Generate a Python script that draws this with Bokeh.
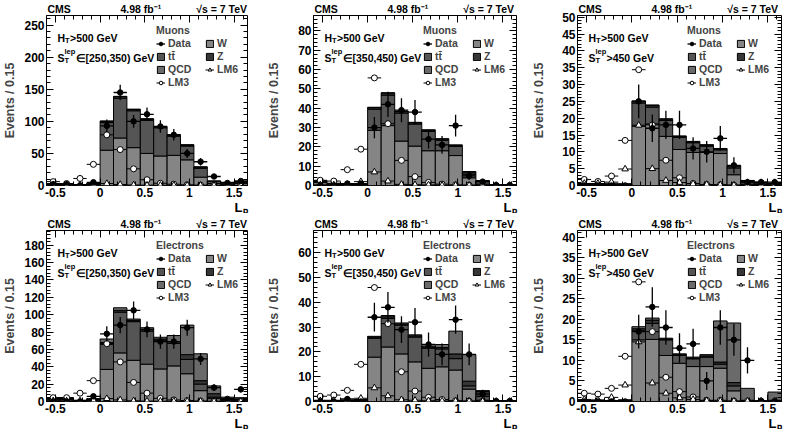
import numpy as np
from bokeh.plotting import figure
from bokeh.layouts import row, column
from bokeh.models import (ColumnDataSource, Label, Legend, LegendItem, LinearAxis, Range1d,
                          SingleIntervalTicker, CustomJSTickFormatter, Title)
from bokeh.embed import file_html
from bokeh.resources import INLINE

# ---------------- data ----------------
edges = [-0.6, -0.45, -0.3, -0.15, 0.0, 0.15, 0.3, 0.45, 0.6, 0.75, 0.9, 1.05, 1.2, 1.35, 1.5, 1.65]

# Muons, ST in [250,350)
mu1_W   = [1.5, 1.2, 0.5, 1.5, 55, 74, 59, 50, 46, 47, 40, 13, 3, 2, 3]
mu1_TT  = [0.6, 0.4, 0.3, 1.0, 43, 62, 57.5, 51.5, 44, 30, 21.5, 13.7, 3.2, 2.2, 2.2]
mu1_Z   = [0.2, 0.2, 0.1, 0.3, 2, 2.5, 2, 2, 1.5, 1.5, 1.5, 2, 0.5, 0.5, 0.5]
mu1_QCD = [0.2, 0.2, 0.1, 0.2, 0.5, 0.5, 0.5, 0.5, 0.5, 0.5, 0.5, 0.3, 0.3, 0.3, 0.3]
mu1_data = [2, 2, 0, 5, 93, 145, 100, 111, 92, 79, 50, 37, 14, 4, 7]
mu1_err  = [1.4, 1.4, 0, 2.2, 10, 12, 10, 10.5, 9.6, 9, 7, 6, 3.7, 2, 2.6]
mu1_lm3 = [6, 3, 11, 33, 79, 56, 26, 9, 3.5, 2, 1, 0.5, 0.3, 0.2, 0.1]
mu1_lm6 = [1, 0.5, 0.8, 1.5, 3, 1.5, 0.8, 0.5, 0.3, 0.2, 0.2, 0.2, 0.1, 0.1, 0.1]

# Muons, ST in [350,450)
mu2_W   = [1.5, 0.6, 0.5, 0.5, 28.6, 31, 23, 20.4, 18, 18, 15.5, 4, 0.7, 0.1, 0.2]
mu2_TT  = [0.4, 0.3, 0.3, 0.3, 10.9, 15.8, 14.5, 11.4, 10, 5.4, 4.7, 1.8, 1.3, 0.1, 0.15]
mu2_Z   = [0.3, 0.1, 0.1, 0.1, 0.8, 1, 0.8, 0.7, 0.6, 0.6, 0.6, 1.2, 0.4, 0.05, 0.1]
mu2_QCD = [0.3, 0.2, 0.1, 0.1, 0.2, 0.2, 0.2, 0.2, 0.2, 0.2, 0.2, 0.2, 0.1, 0.05, 0.05]
mu2_data = [0, 0, 1, 1, 30, 42, 39, 38, 24, 21, 31, 5, 2, 0, 0]
mu2_err  = [0, 0, 1, 1, 5.5, 6.5, 6.2, 6.2, 4.9, 4.6, 5.6, 2.2, 1.4, 0, 0]
mu2_lm3 = [2.7, 2.3, 8.2, 18.8, 55.7, 32, 13, 4.6, 1.6, 0.7, 0.3, 0.2, 0.1, 0.05, 0.05]
mu2_lm6 = [0.3, 0.3, 0.5, 2, 7, 2.3, 0.6, 0.4, 0.3, 0.1, 0.1, 0.1, 0.1, 0.05, 0.05]

# Muons, ST > 450
mu3_W   = [0.3, 0.2, 0.2, 0.2, 17.6, 18.3, 14.6, 10.7, 9.8, 9.8, 9.5, 3.2, 0.4, 0.3, 0.2]
mu3_TT  = [0.1, 0.1, 0.1, 0.1, 6.9, 5, 4.7, 3.6, 2.9, 1.9, 1.1, 2, 0.7, 0.4, 0.3]
mu3_Z   = [0.1, 0.1, 0.1, 0.1, 0.5, 0.5, 0.4, 0.3, 0.3, 0.3, 0.3, 0.6, 0.3, 0.2, 0.1]
mu3_QCD = [0.1, 0.1, 0.1, 0.1, 0.1, 0.1, 0.1, 0.1, 0.1, 0.1, 0.1, 0.1, 0.1, 0.1, 0.1]
mu3_data = [0, 0, 0, 0, 25, 17, 18, 18, 11, 10, 14, 6, 1, 1, 1]
mu3_err  = [0, 0, 0, 0, 5, 4.1, 4.2, 4.2, 3.3, 3.2, 3.7, 2.4, 1, 1, 1]
mu3_lm3 = [1.8, 1.2, 2.8, 13.4, 34.4, 18, 7.5, 2.3, 0.6, 0.3, 0.2, 0.1, 0.1, 0.05, 0.05]
mu3_lm6 = [0.6, 0.6, 1, 4.9, 17.9, 5, 1.5, 0.9, 0.5, 0.3, 0.2, 0.1, 0.1, 0.05, 0.05]

# Electrons, ST in [250,350)
el1_W   = [2, 2, 0.6, 1.5, 37, 56, 47.5, 43, 37.5, 41, 32, 12.5, 3.3, 1.5, 1.5]
el1_TT  = [1, 1, 0.3, 0.8, 29, 47, 44.5, 38, 32.5, 26, 16.5, 7.5, 1.7, 1, 0.8]
el1_Z   = [0.5, 0.5, 0.2, 0.4, 2, 2, 1.5, 2, 2, 2, 5.5, 4, 4, 1, 0.6]
el1_QCD = [0.9, 0.9, 0.4, 0.6, 4, 3, 1.5, 2, 2, 7, 34, 31, 9, 1.5, 1.5]
el1_data = [0, 0, 0, 6, 78, 88, 105, 83, 69, 69, 85, 49, 16, 3, 14]
el1_err  = [0, 0, 0, 2.4, 8.8, 9.4, 10.2, 9.1, 8.3, 8.3, 9.2, 7, 4, 1.7, 3.7]
el1_lm3 = [4.4, 4.4, 9.6, 24, 66.6, 45.6, 22, 9.6, 3.7, 1.8, 1.1, 0.5, 0.3, 0.2, 0.1]
el1_lm6 = [0.8, 0.5, 0.7, 1.5, 3.3, 1.8, 0.8, 0.5, 0.3, 0.3, 0.2, 0.2, 0.1, 0.1, 0.1]

# Electrons, ST in [350,450)
el2_W   = [0.2, 0.2, 0.2, 0.3, 17.9, 22, 19.2, 16, 13.4, 14, 12.7, 5, 0.5, 0.1, 0.1]
el2_TT  = [0.1, 0.1, 0.1, 0.2, 7.6, 11.5, 11.6, 10, 8.1, 7.2, 4.6, 1.3, 1.5, 0.1, 0.1]
el2_Z   = [0.1, 0.1, 0.1, 0.1, 0.5, 0.7, 0.5, 0.5, 0.5, 0.6, 1.9, 1.9, 2, 0.05, 0.1]
el2_QCD = [0.1, 0.1, 0.1, 0.2, 0.3, 0.5, 0.4, 0.4, 0.4, 1.2, 9.2, 10.7, 0.4, 0.05, 0.1]
el2_data = [0, 0, 1, 0, 34, 38, 29, 32, 23, 19, 33, 19, 3, 0, 0]
el2_err  = [0, 0, 1, 0, 5.8, 6.2, 5.4, 5.7, 4.8, 4.4, 5.7, 4.4, 1.7, 0, 0]
el2_lm3 = [2.1, 2.6, 4.5, 15, 46, 31.4, 12, 4.2, 1.7, 0.8, 0.3, 0.2, 0.1, 0.05, 0.05]
el2_lm6 = [0.3, 0.4, 0.5, 1.3, 5.5, 2.3, 0.7, 0.5, 0.3, 0.2, 0.2, 0.1, 0.1, 0.05, 0.05]

# Electrons, ST > 450
el3_W   = [0.1, 0.1, 0.1, 0.1, 15, 15.1, 11.2, 9.3, 8.5, 8.5, 8.1, 2.6, 0.1, 0.02, 0.1]
el3_TT  = [0.1, 0.05, 0.05, 0.1, 2.2, 3.9, 3.8, 1.9, 1.9, 2.3, 1, 1.2, 0.1, 0.02, 0.1]
el3_Z   = [0.05, 0.05, 0.05, 0.1, 0.5, 0.8, 0.2, 0.2, 0.2, 0.3, 0.5, 0.8, 0.1, 0.02, 0.1]
el3_QCD = [0.05, 0.05, 0.05, 0.1, 0.5, 0.5, 0.2, 0.2, 0.2, 0.3, 10, 14.5, 2.9, 0.04, 2]
el3_data = [0, 0, 0, 0, 17, 23, 18, 13, 14, 5, 18, 15, 10, 0, 0]
el3_err  = [0, 0, 0, 0, 4.1, 4.8, 4.2, 3.6, 3.7, 2.2, 4.2, 3.9, 3.2, 0, 0]
el3_lm3 = [2, 1.8, 3.2, 11, 29.1, 17, 5.9, 2.4, 1.1, 0.3, 0.3, 0.1, 0.1, 0.1, 0.1]
el3_lm6 = [0.5, 0.4, 1, 4, 14.5, 4.5, 2, 0.9, 0.5, 0.2, 0.1, 0.1, 0.1, 0.1, 0.1]

channels = ["Muons", "Muons", "Muons", "Electrons", "Electrons", "Electrons"]
st_labels = ["\u2208[250,350) GeV", "\u2208[350,450) GeV", ">450 GeV"] * 2
y_max = [265, 88, 50.5, 197, 69, 41.6]
y_step = [50, 10, 5, 20, 10, 5]
header_parts = ["CMS", "4.98 fb\u207b\u00b9", "\u221as = 7 TeV"]
xlabel_text = "L\u209a"

# ---------------- style ----------------
FONT = "Liberation Sans"
C_W, C_TT, C_Z, C_QCD = "#858585", "#555555", "#363636", "#6a6a6a"
NBSP = "\u00a0"

left_e = np.array(edges[:-1])
right_e = np.array(edges[1:])
centers = (left_e + right_e) / 2


def stxt(p, x, y, s, size, align="left", baseline="alphabetic"):
    """Label in screen units: x from frame left, y from frame bottom (upwards)."""
    p.add_layout(Label(x=x, y=y, x_units="screen", y_units="screen", text=s, text_font=FONT,
                       text_font_size=size, text_font_style="bold", text_color="black",
                       text_align=align, text_baseline=baseline))


def style_axis(ax):
    ax.major_tick_in = 7
    ax.major_tick_out = 0
    ax.minor_tick_in = 4
    ax.minor_tick_out = 0
    ax.major_tick_line_color = "black"
    ax.minor_tick_line_color = "black"
    ax.axis_line_color = None


def panel(W, TT, Z, QCD, data, err, lm3, lm6, ymax, ystep, channel, st, width, height,
          bl, br, bt, bb, ylab_standoff):
    fh = height - bt - bb
    p = figure(width=width, height=height, x_range=Range1d(edges[0], edges[-1]),
               y_range=Range1d(0, ymax), output_backend="svg", toolbar_location=None,
               min_border_left=bl, min_border_right=br, min_border_top=bt, min_border_bottom=bb)
    p.xgrid.visible = False
    p.ygrid.visible = False
    p.outline_line_color = "black"
    p.outline_line_width = 1
    p.background_fill_color = "white"

    # header line as the title (text outside the frame)
    header = header_parts[0] + NBSP * 17 + header_parts[1] + NBSP * 12 + header_parts[2]
    p.title.text = header
    p.title.align = "left"
    p.title.offset = 1
    p.title.standoff = 1
    p.title.text_font = FONT
    p.title.text_font_size = "10.5px"
    p.title.text_font_style = "bold"
    p.title.text_color = "black"

    p.xaxis.ticker = SingleIntervalTicker(interval=0.5, num_minor_ticks=5)
    p.xaxis.formatter = CustomJSTickFormatter(code="return (Math.round(tick*10)/10).toString();")
    p.yaxis.ticker = SingleIntervalTicker(interval=ystep, num_minor_ticks=5)
    for ax in (p.xaxis[0], p.yaxis[0]):
        style_axis(ax)
        ax.major_label_text_font = FONT
        ax.major_label_text_font_size = "12px"
        ax.major_label_text_font_style = "bold"
        ax.major_label_text_color = "black"
        ax.major_label_standoff = 2
    p.yaxis.axis_label = "Events / 0.15"
    p.yaxis.axis_label_text_font = FONT
    p.yaxis.axis_label_text_font_size = "12.5px"
    p.yaxis.axis_label_text_font_style = "bold"
    p.yaxis.axis_label_standoff = ylab_standoff
    empty = CustomJSTickFormatter(code="return '';")
    top_ax = LinearAxis(ticker=SingleIntervalTicker(interval=0.5, num_minor_ticks=5), formatter=empty,
                        major_label_text_font_size="1px", major_label_standoff=0)
    right_ax = LinearAxis(ticker=SingleIntervalTicker(interval=ystep, num_minor_ticks=5), formatter=empty,
                          major_label_text_font_size="1px", major_label_standoff=0)
    style_axis(top_ax)
    style_axis(right_ax)
    p.add_layout(top_ax, "above")
    p.add_layout(right_ax, "right")

    # x-axis label at the right end, below the tick labels
    p.add_layout(Title(text=xlabel_text, align="right", offset=0, standoff=-4, text_font=FONT,
                       text_font_size="13px", text_font_style="bold", text_color="black"), "below")

    # stacked histogram
    bottom = np.zeros(len(W))
    rends = {}
    for key, vals, col in (("W", W, C_W), ("TT", TT, C_TT), ("Z", Z, C_Z), ("QCD", QCD, C_QCD)):
        top = bottom + np.array(vals, dtype=float)
        rends[key] = p.quad(left=left_e, right=right_e, bottom=bottom, top=top,
                            fill_color=col, line_color="black", line_width=1)
        bottom = top

    # LM3 / LM6
    s3 = ColumnDataSource(dict(x=centers, y=lm3, xl=left_e, xr=right_e))
    h3 = p.segment(x0="xl", y0="y", x1="xr", y1="y", source=s3, line_color="black", line_width=1)
    m3 = p.scatter("x", "y", source=s3, marker="circle", size=6, fill_color="white",
                   line_color="black", line_width=1)
    s6 = ColumnDataSource(dict(x=centers, y=lm6, xl=left_e, xr=right_e))
    h6 = p.segment(x0="xl", y0="y", x1="xr", y1="y", source=s6, line_color="black", line_width=1)
    m6 = p.scatter("x", "y", source=s6, marker="triangle", size=6.5, fill_color="white",
                   line_color="black", line_width=1)

    # data
    d = np.array(data, dtype=float)
    e = np.array(err, dtype=float)
    sd = ColumnDataSource(dict(x=centers, y=d, lo=d - e, hi=d + e, xl=left_e, xr=right_e))
    p.segment(x0="x", y0="lo", x1="x", y1="hi", source=sd, line_color="black", line_width=1.3)
    hd = p.segment(x0="xl", y0="y", x1="xr", y1="y", source=sd, line_color="black", line_width=1.3)
    md = p.scatter("x", "y", source=sd, marker="circle", size=5.5, fill_color="black", line_color="black")

    legend = Legend(items=[
        LegendItem(label="Data", renderers=[hd, md]),
        LegendItem(label="t\u0074\u0304", renderers=[rends["TT"]]),
        LegendItem(label="QCD", renderers=[rends["QCD"]]),
        LegendItem(label="LM3", renderers=[h3, m3]),
        LegendItem(label="W", renderers=[rends["W"]]),
        LegendItem(label="Z", renderers=[rends["Z"]]),
        LegendItem(label="LM6", renderers=[h6, m6]),
    ], location=(110, fh - 73), ncols=2, title=channel,
        title_text_font=FONT, title_text_font_size="10.5px", title_text_font_style="bold",
        title_standoff=1,
        label_text_font=FONT, label_text_font_size="10.5px", label_text_font_style="bold",
        glyph_width=9, glyph_height=9, label_height=12, label_width=36, label_standoff=3,
        spacing=1, padding=0, margin=0, background_fill_alpha=0, border_line_color=None)
    p.add_layout(legend)

    # H_T and S_T^lep
    stxt(p, 11, fh - 22, "H", "10.5px")
    stxt(p, 18.6, fh - 25, "T", "7.5px")
    stxt(p, 23.5, fh - 22, ">500 GeV", "10.5px")
    stxt(p, 11, fh - 42, "S", "10.5px")
    stxt(p, 18, fh - 45, "T", "7.5px")
    stxt(p, 18, fh - 36, "lep", "7.5px")
    stxt(p, 29, fh - 42, st, "10.5px")
    return p


specs = [
    (mu1_W, mu1_TT, mu1_Z, mu1_QCD, mu1_data, mu1_err, mu1_lm3, mu1_lm6),
    (mu2_W, mu2_TT, mu2_Z, mu2_QCD, mu2_data, mu2_err, mu2_lm3, mu2_lm6),
    (mu3_W, mu3_TT, mu3_Z, mu3_QCD, mu3_data, mu3_err, mu3_lm3, mu3_lm6),
    (el1_W, el1_TT, el1_Z, el1_QCD, el1_data, el1_err, el1_lm3, el1_lm6),
    (el2_W, el2_TT, el2_Z, el2_QCD, el2_data, el2_err, el2_lm3, el2_lm6),
    (el3_W, el3_TT, el3_Z, el3_QCD, el3_data, el3_err, el3_lm3, el3_lm6),
]

col_geom = [(264, 42, 17, 4), (257, 48, 5, 14), (262, 56, 2, 13)]
row_geom = [(213, 15, 28), (216, 17, 28)]

figs = []
for i, s in enumerate(specs):
    r, c = divmod(i, 3)
    w, bl, br, ls = col_geom[c]
    h, bt, bb = row_geom[r]
    figs.append(panel(*s, y_max[i], y_step[i], channels[i], st_labels[i], w, h, bl, br, bt, bb, ls))

layout = column(row(*figs[:3], spacing=0), row(*figs[3:], spacing=0), spacing=0)
open("out.html", "w").write(file_html(layout, INLINE))
